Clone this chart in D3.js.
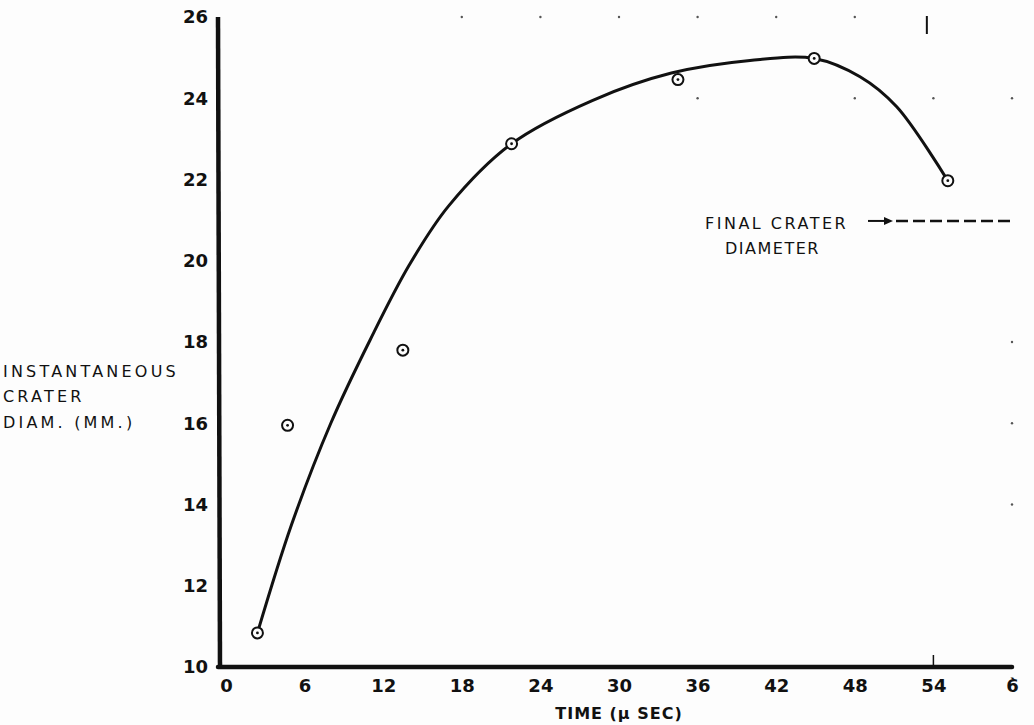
<!DOCTYPE html>
<meta charset="utf-8">
<style>
  body { margin: 0; background: #fdfdfd; }
  text { font-family: "DejaVu Sans", sans-serif; fill: #111; }
</style>
<body>
<script src="https://cdn.jsdelivr.net/npm/d3@7"></script>
<script>

// measured points (time in microseconds, diameter in mm)
var pointTime = [2.4, 4.7, 13.5, 21.8, 34.5, 44.9, 55.1];
var pointDiam = [10.84, 15.95, 17.8, 22.88, 24.46, 24.98, 21.97];

// hand drawn fit curve
var curveTime = [2.4, 5, 8, 11, 14, 17, 21.8, 28, 34, 40, 44.9, 48.4, 51.2, 55.1];
var curveDiam = [10.84, 13.5, 16.0, 18.05, 19.9, 21.35, 22.88, 23.95, 24.62, 24.93, 24.98, 24.53, 23.79, 21.97];

var xTicks = [0, 6, 12, 18, 24, 30, 36, 42, 48, 54, 60];
var xTickLabels = ["0", "6", "12", "18", "24", "30", "36", "42", "48", "54", "6\u0300"];
var yTicks = [10, 12, 14, 16, 18, 20, 22, 24, 26];

var finalDiam = 20.98;

var width = 1034, height = 725;

var svg = d3.select("body").append("svg")
    .attr("width", width)
    .attr("height", height);

var x = d3.scaleLinear().domain([0, 60]).range([226, 1012]),
    y = d3.scaleLinear().domain([10, 26]).range([667, 17]);

// axes
var yAxis = d3.axisLeft(y).tickValues(yTicks).tickSize(0).tickPadding(12);
var xAxis = d3.axisBottom(x).tickValues(xTicks).tickSize(0).tickPadding(12)
    .tickFormat(function(d, i) { return xTickLabels[i]; });

var gy = svg.append("g")
    .attr("transform", "translate(" + (x(0) - 8) + ",0)")
    .call(yAxis);
gy.select(".domain").remove();
gy.selectAll("text")
    .style("font-size", "18px")
    .style("font-weight", "bold")
    .attr("dx", "2");

var gx = svg.append("g")
    .attr("transform", "translate(0," + y(10) + ")")
    .call(xAxis);
gx.select(".domain").remove();
gx.selectAll("text")
    .style("font-size", "18px")
    .style("font-weight", "bold");

svg.append("line")
    .attr("x1", x(0) - 8).attr("y1", y(26))
    .attr("x2", x(0) - 6).attr("y2", y(10) + 2)
    .attr("stroke", "#111").attr("stroke-width", 4.5);
svg.append("line")
    .attr("x1", x(0) - 8).attr("y1", y(10))
    .attr("x2", x(60)).attr("y2", y(10))
    .attr("stroke", "#111").attr("stroke-width", 4.5)
    .attr("stroke-linecap", "round");

// small tick at 54 on the time axis
svg.append("line")
    .attr("x1", x(54)).attr("x2", x(54))
    .attr("y1", y(10)).attr("y2", y(10) - 12)
    .attr("stroke", "#111").attr("stroke-width", 1.5);

// titles
svg.append("text")
    .attr("x", x(30)).attr("y", 719)
    .attr("text-anchor", "middle")
    .style("font-size", "16px").style("font-weight", "bold")
    .style("letter-spacing", "1px")
    .text("TIME  (\u03bc SEC)");

var ylab = svg.append("text")
    .attr("x", 3).attr("y", 377)
    .style("font-size", "16px")
    .style("letter-spacing", "3.2px");
ylab.append("tspan").attr("x", 3).attr("dy", 0).text("INSTANTANEOUS");
ylab.append("tspan").attr("x", 3).attr("dy", 25).text("CRATER");
ylab.append("tspan").attr("x", 3).attr("dy", 26).text("DIAM. (MM.)");

// fit curve
var line = d3.line()
    .x(function(d) { return x(d[0]); })
    .y(function(d) { return y(d[1]); })
    .curve(d3.curveCatmullRom.alpha(0.5));

svg.append("path")
    .datum(d3.zip(curveTime, curveDiam))
    .attr("d", line)
    .attr("fill", "none")
    .attr("stroke", "#111")
    .attr("stroke-width", 3);

// data points
var pts = svg.append("g").selectAll("g")
    .data(d3.zip(pointTime, pointDiam))
    .enter().append("g")
    .attr("transform", function(d) { return "translate(" + x(d[0]) + "," + y(d[1]) + ")"; });
pts.append("circle")
    .attr("r", 5.5)
    .attr("fill", "#fdfdfd")
    .attr("stroke", "#111")
    .attr("stroke-width", 2);
pts.append("circle")
    .attr("r", 1.4)
    .attr("fill", "#111");

// final crater diameter annotation
svg.append("text")
    .attr("x", 705).attr("y", 229)
    .style("font-size", "16px")
    .style("letter-spacing", "2.5px")
    .text("FINAL  CRATER");
svg.append("text")
    .attr("x", 725).attr("y", 254)
    .style("font-size", "16px")
    .style("letter-spacing", "1.5px")
    .text("DIAMETER");

svg.append("line")
    .attr("x1", 868).attr("x2", 884)
    .attr("y1", y(finalDiam)).attr("y2", y(finalDiam))
    .attr("stroke", "#111").attr("stroke-width", 2);
svg.append("path")
    .attr("d", "M884," + (y(finalDiam) - 4) + "L893," + y(finalDiam) + "L884," + (y(finalDiam) + 4) + "Z")
    .attr("fill", "#111");
svg.append("line")
    .attr("x1", 896).attr("x2", x(60))
    .attr("y1", y(finalDiam)).attr("y2", y(finalDiam))
    .attr("stroke", "#111").attr("stroke-width", 2.5)
    .attr("stroke-dasharray", "12,5");

// faint grid marks left on the sheet
var markTime = [18, 24, 30, 36, 42, 48, 36, 48, 60, 54, 60, 60, 60];
var markDiam = [26, 26, 26, 26, 26, 26, 24, 24, 24, 24, 18, 16, 14];
svg.append("g").selectAll("circle")
    .data(d3.zip(markTime, markDiam))
    .enter().append("circle")
    .attr("cx", function(d) { return x(d[0]); })
    .attr("cy", function(d) { return y(d[1]); })
    .attr("r", 1.2)
    .attr("fill", "#555");

svg.append("line")
    .attr("x1", x(53.5)).attr("x2", x(53.5))
    .attr("y1", 16).attr("y2", 34)
    .attr("stroke", "#111").attr("stroke-width", 2);

</script>
</body>
